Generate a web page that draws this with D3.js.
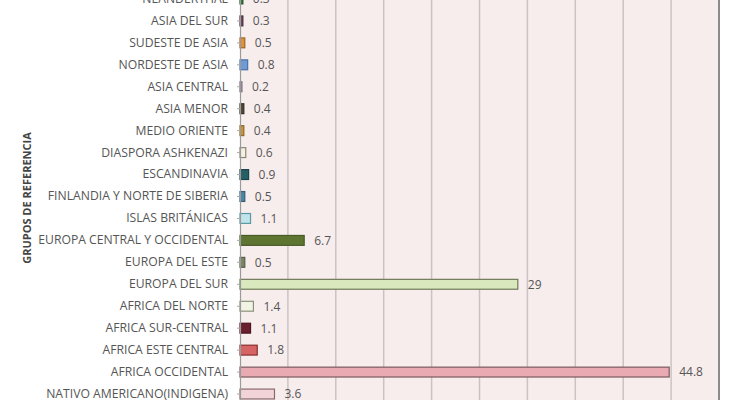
<!DOCTYPE html>
<html lang="es">
<head>
<meta charset="UTF-8">
<title>Grupos de referencia</title>
<script src="https://d3js.org/d3.v7.min.js"></script>
<style>
  html, body { margin: 0; padding: 0; background: #fff; }
  svg { display: block; font-family: "Open Sans", "Liberation Sans", sans-serif; }
</style>
</head>
<body>
<div id="chart"></div>
<script>
const grupos = [
  "NEANDERTHAL", "ASIA DEL SUR", "SUDESTE DE ASIA", "NORDESTE DE ASIA", "ASIA CENTRAL",
  "ASIA MENOR", "MEDIO ORIENTE", "DIASPORA ASHKENAZI", "ESCANDINAVIA",
  "FINLANDIA Y NORTE DE SIBERIA", "ISLAS BRITÁNICAS", "EUROPA CENTRAL Y OCCIDENTAL",
  "EUROPA DEL ESTE", "EUROPA DEL SUR", "AFRICA DEL NORTE", "AFRICA SUR-CENTRAL",
  "AFRICA ESTE CENTRAL", "AFRICA OCCIDENTAL", "NATIVO AMERICANO(INDIGENA)"
];
const porcentajes = [0.3, 0.3, 0.5, 0.8, 0.2, 0.4, 0.4, 0.6, 0.9, 0.5, 1.1, 6.7, 0.5, 29, 1.4, 1.1, 1.8, 44.8, 3.6];
const rellenos = [
  "#2f7a3a", "#6a4658", "#e0913a", "#6f9bd6", "#a89aa8", "#4e4636", "#c99338",
  "#f4f0e2", "#275f66", "#4a86a6", "#bfe4ea", "#5e7532", "#7c8466", "#d9e8bd",
  "#f1f4e4", "#6b1f2e", "#d66464", "#e9aab2", "#f2d4d8"
];
const bordes = [
  "#1f5a28", "#4a3040", "#a0652a", "#4a72a8", "#7a6e7a", "#36301f", "#8e6a28",
  "#8a8676", "#1b444a", "#336078", "#5a9aa6", "#485a26", "#56604a", "#6f7a58",
  "#8a927a", "#4a1420", "#8a3030", "#7a5a5e", "#8a6a6c"
];
const ticksX = [0, 5, 10, 15, 20, 25, 30, 35, 40, 45, 50];

const W = 730, H = 400;
const svg = d3.select("#chart").append("svg")
  .attr("width", W).attr("height", H);

const x = d3.scaleLinear().domain([0, 50]).range([240, 719]);
const y = d3.scaleBand().domain(grupos).range([-12, 405]).paddingInner(0.55).paddingOuter(0.275);

// plot background
svg.append("rect")
  .attr("x", x(0)).attr("y", 0)
  .attr("width", x(50) - x(0)).attr("height", H)
  .attr("fill", "#f8eded");

// vertical gridlines
svg.append("g")
  .selectAll("line")
  .data(ticksX.slice(1, -1))
  .join("line")
  .attr("x1", d => x(d)).attr("x2", d => x(d))
  .attr("y1", 0).attr("y2", H)
  .attr("stroke", "#cbc3c3").attr("stroke-width", 1.5);

// right border
svg.append("line")
  .attr("x1", x(50)).attr("x2", x(50))
  .attr("y1", 0).attr("y2", H)
  .attr("stroke", "#8c8a8a").attr("stroke-width", 2);

// bars
svg.append("g")
  .selectAll("rect")
  .data(grupos)
  .join("rect")
  .attr("x", x(0))
  .attr("y", d => y(d))
  .attr("width", (d, i) => x(porcentajes[i]) - x(0))
  .attr("height", y.bandwidth())
  .attr("fill", (d, i) => rellenos[i])
  .attr("stroke", (d, i) => bordes[i])
  .attr("stroke-width", 1.2);

// value labels
svg.append("g")
  .selectAll("text")
  .data(grupos)
  .join("text")
  .attr("x", (d, i) => x(porcentajes[i]) + 10)
  .attr("y", d => y(d) + y.bandwidth() / 2)
  .attr("dy", "0.36em")
  .attr("fill", "#555")
  .style("font-size", "12px")
  .text((d, i) => porcentajes[i]);

// y axis
const yAxis = svg.append("g")
  .attr("transform", `translate(${x(0)},0)`)
  .call(d3.axisLeft(y).tickSize(3).tickPadding(9));
yAxis.select(".domain").attr("stroke", "#9a9a9a").attr("stroke-width", 1.2);
yAxis.selectAll(".tick line").attr("stroke", "#aaa");
yAxis.selectAll(".tick text")
  .attr("fill", "#555")
  .style("font-size", "12.2px")
  .style("font-family", "'Open Sans', sans-serif");

// axis title
svg.append("text")
  .attr("transform", `translate(31,198) rotate(-90)`)
  .attr("text-anchor", "middle")
  .attr("fill", "#444")
  .style("font-size", "11px")
  .style("font-weight", "bold")
  .text("GRUPOS DE REFERENCIA");
</script>
</body>
</html>
